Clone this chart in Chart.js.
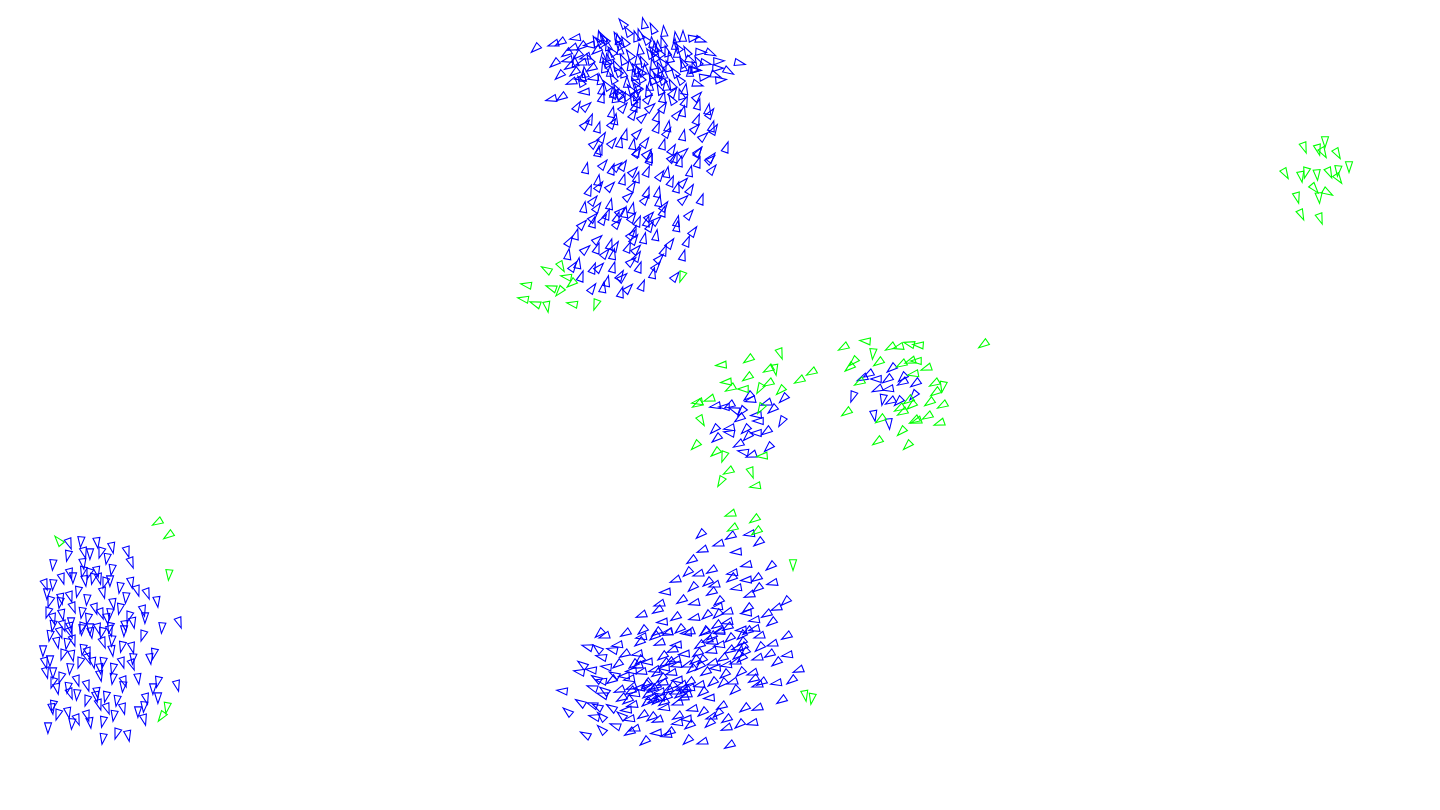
<!DOCTYPE html>
<html><head><meta charset="utf-8">
<style>html,body{margin:0;padding:0;background:#fff;overflow:hidden}canvas{display:block}</style>
<script src="https://cdn.jsdelivr.net/npm/chart.js@4"></script></head>
<body><canvas id="c" width="1440" height="810"></canvas>
<script>
// values: [x, y, marker angle (optional)]
const greenFarRight=[[1304,147,160],[1325,141,180],[1318,149,165],[1323,152,150],[1337,153,150],[1285,173,150],[1301,176,170],[1306,172,195],[1317,174,175],[1329,172,155],[1338,170,185],[1338,178,145],[1349,166,180],[1314,188,140],[1327,192,120],[1319,197,175],[1297,197,165],[1301,214,155],[1320,218,160]];
const greenMidLeft=[[780,353,160],[722,365,265],[749,359,235],[769,369,240],[775,369,170],[812,372,240],[800,380,240],[748,377,235],[727,382,265],[731,388,240],[744,389,270],[760,388,210],[769,383,240],[781,390,225],[710,399,250],[698,402,260],[698,404,240],[701,420,150],[696,445,225],[716,452,230],[724,456,200],[763,456,265],[729,471,240],[751,472,160],[721,481,210],[756,486,260],[761,408,210]];
const greenMidRight=[[844,347,240],[866,341,275],[873,353,185],[891,347,240],[899,347,255],[910,344,285],[919,345,275],[984,344,235],[854,361,225],[850,367,230],[879,362,235],[902,364,240],[911,361,250],[917,361,270],[927,368,250],[914,374,260],[860,382,240],[935,383,240],[943,386,190],[936,392,235],[943,405,240],[930,402,235],[847,412,235],[909,400,235],[900,408,240],[912,405,230],[903,412,240],[928,416,240],[915,420,240],[917,421,250],[940,423,250],[881,419,235],[902,431,225],[878,441,235],[908,445,225]];
const greenFoot=[[547,270,300],[561,266,150],[567,277,280],[572,283,230],[527,285,280],[552,288,290],[560,291,220],[524,299,280],[536,304,290],[547,306,170],[573,304,280],[596,304,200],[682,276,200]];
const greenLeft=[[158,522,240],[169,535,235],[59,541,320],[169,574,185],[167,707,190],[162,716,215]];
const greenBottom=[[731,514,250],[755,519,235],[733,528,240],[757,531,235],[793,564,180],[805,695,170],[812,698,190]];
const blueMidLeft=[[716,406,260],[725,407,270],[730,405,240],[735,410,290],[742,411,220],[749,396,230],[751,400,255],[767,403,250],[784,398,225],[773,409,230],[740,418,235],[757,415,265],[759,421,270],[782,421,210],[715,429,225],[730,428,260],[730,433,280],[746,429,225],[767,431,235],[757,433,270],[717,438,230],[748,436,225],[739,444,240],[769,447,225],[744,452,280],[752,455,250]];
const blueMidRight=[[869,374,240],[863,378,245],[892,368,230],[877,379,270],[888,379,235],[903,377,225],[903,382,240],[916,383,235],[878,389,245],[889,389,260],[853,396,200],[883,399,190],[891,401,240],[899,401,225],[914,395,220],[874,415,170],[889,423,175]];
const blueCrownLeft=[[536,48],[554,44],[561,42],[576,38],[582,46],[573,48],[590,45],[567,53],[568,60],[555,63],[560,75],[582,63],[592,68],[581,78],[575,72],[572,82],[585,92],[562,97],[552,99],[597,50],[578,55],[586,57],[570,66],[594,78]];
const blueCrownMid=[[623,24],[644,24],[653,29],[664,32],[628,32],[636,37],[683,37],[603,38],[618,40],[619,45],[600,43],[608,60],[623,60],[638,60],[653,52],[663,43],[675,45],[687,52],[660,73],[662,80],[663,63],[653,65],[652,80],[637,72],[635,83],[623,73],[627,83],[613,79],[600,80],[675,73],[680,80],[683,67],[672,85],[652,43],[660,53],[667,52],[677,53],[683,63],[640,50],[630,55],[612,52],[604,68],[616,66],[645,70],[655,57],[668,67],[650,86],[641,78],[630,66],[607,86],[618,72],[670,58],[643,62],[658,47]];
const blueCrownDense=[[605,40],[608,46],[617,38],[603,58],[606,63],[610,56],[583,77],[581,82],[585,73],[636,69],[641,72],[634,76],[660,68],[664,74],[657,78],[652,74],[613,93],[617,90],[615,98],[619,95],[638,88],[636,96],[633,100],[655,48],[650,54],[694,68],[690,72],[698,62],[676,38],[678,48],[646,40],[600,37],[596,42],[620,50],[625,42],[640,35],[610,72],[590,60],[575,62],[631,90],[626,96],[648,92],[660,90],[666,86],[672,100],[681,95]];
const blueCrownRight=[[693,38],[700,40],[700,52],[710,53],[718,61],[739,63],[728,71],[717,68],[715,75],[720,80],[704,77],[697,84],[695,70],[690,60],[693,70],[705,63]];
const blueStem=[[602,90],[615,94],[623,98],[637,93],[602,98],[577,107],[586,107],[638,103],[648,99],[663,98],[685,90],[673,93],[685,102],[697,97],[698,105],[663,108],[650,108],[635,107],[623,108],[612,113],[615,120],[612,124],[590,120],[585,125],[598,128],[633,115],[642,118],[657,117],[677,115],[683,112],[708,110],[710,114],[697,120],[695,129],[712,127],[714,130],[703,137],[726,148],[698,152],[683,136],[668,127],[667,133],[657,128],[637,134],[625,135],[602,138],[594,144],[600,150],[612,143],[620,143],[633,145],[645,143],[637,152],[647,154],[663,145],[672,150],[683,153],[675,158],[711,158],[650,158],[598,152],[637,153],[650,160],[672,158],[680,162],[698,153],[710,160],[698,163],[712,170],[690,172],[667,173],[660,176],[647,172],[633,172],[637,178],[623,166],[617,167],[612,170],[603,165],[586,169],[598,181],[599,187],[589,191],[610,187],[623,180],[632,187],[628,197],[647,193],[645,200],[658,193],[659,202],[664,207],[671,182],[683,183],[677,188],[690,190],[683,200],[701,200],[593,201],[610,205],[584,208],[597,208],[607,215],[593,218],[593,223],[603,220],[620,212],[617,218],[617,224],[632,209],[625,213],[632,218],[638,222],[649,217],[647,222],[650,227],[656,221],[663,212],[689,215],[677,222],[677,227],[693,232],[687,242],[582,225],[576,235],[569,242],[597,240],[634,232],[631,235],[644,239],[656,236],[634,240],[628,248],[636,250],[610,245],[615,247],[585,250],[597,249],[605,254],[613,255],[568,255],[670,244],[664,251],[659,259],[683,256],[637,257],[631,262],[639,268],[656,267],[653,274],[578,264],[573,267],[593,269],[599,268],[613,268],[620,276],[622,278],[581,277],[675,277],[607,282],[603,288],[592,289],[642,286],[628,289],[621,293]];
const blueLeft=[[69,543],[81,541],[97,542],[68,555],[84,552],[90,553],[101,552],[112,547],[107,558],[127,551],[131,562],[53,564],[83,563],[83,571],[70,573],[73,577],[89,573],[97,571],[112,569],[62,578],[45,584],[53,584],[85,580],[93,578],[99,578],[110,580],[105,582],[131,582],[120,587],[137,590],[147,593],[126,597],[157,601],[78,591],[103,592],[47,593],[50,601],[61,598],[60,602],[70,596],[73,607],[87,599],[113,603],[120,608],[143,610],[145,617],[48,612],[62,614],[82,612],[95,608],[101,613],[110,613],[107,618],[88,618],[53,618],[71,622],[129,616],[133,622],[53,625],[63,625],[179,622],[162,627],[125,625],[110,627],[98,628],[90,628],[82,627],[70,627],[50,635],[60,632],[70,632],[82,629],[91,632],[102,632],[110,630],[124,630],[143,635],[57,642],[67,643],[73,640],[103,642],[112,640],[112,650],[122,646],[132,647],[43,650],[63,654],[72,655],[83,649],[88,652],[88,658],[133,658],[150,658],[154,653],[45,662],[50,660],[80,662],[93,662],[103,662],[122,662],[132,664],[70,668],[100,668],[113,668],[46,672],[53,672],[61,677],[100,675],[113,678],[77,680],[124,681],[123,686],[138,678],[158,681],[177,685],[153,688],[53,682],[57,688],[68,687],[87,685],[70,693],[77,694],[97,692],[106,696],[146,698],[158,697],[87,700],[96,696],[117,700],[99,704],[107,708],[144,706],[52,708],[53,705],[123,708],[138,711],[58,714],[68,712],[114,715],[87,715],[77,719],[72,723],[90,722],[103,721],[144,719],[48,727],[117,733],[128,735],[103,738]];
const blueBottomFlank=[[563,691],[581,703],[593,705],[568,712],[595,717],[586,735],[602,730],[588,647],[583,665],[580,672],[592,670],[597,679],[593,688],[598,649],[602,657],[598,707],[602,717],[603,695],[605,691],[602,681],[607,667],[612,708],[616,726],[622,716],[613,650],[615,675]];
const blueBottom=[[701,534],[719,544],[731,536],[750,534],[759,542],[703,550],[737,552],[692,560],[747,565],[771,566],[688,572],[699,574],[712,570],[733,573],[732,578],[676,580],[747,580],[757,578],[773,583],[708,582],[693,587],[715,585],[712,592],[737,588],[758,588],[750,595],[666,592],[682,600],[695,603],[719,601],[786,601],[660,604],[658,610],[718,607],[748,608],[777,608],[747,613],[676,617],[695,618],[707,615],[718,614],[728,612],[767,614],[755,620],[772,622],[642,615],[663,622],[717,625],[728,622],[680,629],[705,631],[720,631],[728,627],[668,632],[657,632],[690,632],[742,630],[748,631],[755,629],[643,630],[600,633],[605,636],[626,633],[642,637],[655,636],[668,633],[687,633],[705,632],[720,632],[730,638],[742,635],[760,636],[787,636],[618,645],[640,642],[660,643],[677,645],[700,645],[713,642],[743,647],[760,647],[773,644],[625,654],[638,654],[663,656],[673,650],[685,654],[698,653],[712,651],[738,655],[742,658],[758,658],[770,654],[788,655],[618,664],[638,666],[648,662],[665,663],[677,665],[692,669],[702,660],[713,663],[723,658],[727,665],[777,662],[799,670],[632,671],[657,673],[672,673],[725,674],[741,672],[753,673],[754,679],[630,679],[647,683],[663,683],[678,680],[690,682],[700,685],[713,682],[723,683],[733,682],[762,682],[777,683],[792,680],[632,687],[640,688],[653,689],[683,689],[703,692],[735,690],[758,685],[622,698],[652,698],[667,697],[687,695],[710,698],[782,700],[633,705],[647,702],[657,700],[678,703],[722,706],[665,708],[745,708],[758,708],[627,710],[643,715],[693,709],[703,712],[718,713],[712,717],[678,716],[630,719],[652,717],[658,720],[687,719],[727,719],[753,723],[740,724],[710,723],[635,729],[630,732],[678,723],[690,725],[727,728],[657,733],[670,732],[667,735],[645,741],[688,740],[703,742],[730,745]];
const blueBottomDense=[[646,685],[650,688],[656,686],[660,692],[648,694],[654,700],[660,698],[664,702],[642,672],[634,664],[640,660],[682,685],[686,690],[690,688],[680,694],[684,698],[665,668],[670,662],[676,660],[695,660],[700,666],[688,665],[631,691],[635,694],[628,700],[620,690],[625,676],[612,680],[738,648],[742,642],[745,652],[736,662],[730,650],[720,645],[712,636],[708,640],[716,668],[706,672],[655,670],[662,678],[672,686],[676,692],[668,690]];

const groupAngles={crownLeft:245,crownMid:340,crownRight:100,stem:28,left:178,flank:295,bottom:245};
const spread=[-18,7,-6,15,-12,3,20,-9,11,-15];
const groupsBlue=[[blueMidLeft],[blueMidRight],[blueCrownLeft,groupAngles.crownLeft],[blueCrownMid,groupAngles.crownMid],[blueCrownDense,groupAngles.crownMid],[blueCrownRight,groupAngles.crownRight],[blueStem,groupAngles.stem],[blueLeft,groupAngles.left],[blueBottomFlank,groupAngles.flank],[blueBottom,groupAngles.bottom],[blueBottomDense,groupAngles.bottom]];
const groupsGreen=[[greenFarRight],[greenMidLeft],[greenMidRight],[greenFoot],[greenLeft],[greenBottom]];
function build(groups){const data=[],rot=[];groups.forEach(([pts,a])=>pts.forEach((p,i)=>{data.push({x:p[0],y:p[1]});rot.push(p[2]!==undefined?p[2]:a+spread[i%spread.length]);}));return{data,rot};}
const b=build(groupsBlue),g=build(groupsGreen);

// narrow open triangle marker, placed by the library's scales
const PE=Chart.elements.PointElement;
PE.prototype.draw=function(ctx){
  const o=this.options,{x,y}=this;
  ctx.save();ctx.translate(x,y);ctx.rotate((o.rotation||0)*Math.PI/180);
  ctx.beginPath();ctx.moveTo(0,-6.4);ctx.lineTo(3.5,4.2);ctx.lineTo(-3.5,4.2);ctx.closePath();
  ctx.lineWidth=o.borderWidth;ctx.strokeStyle=o.borderColor;ctx.lineJoin='miter';ctx.stroke();ctx.restore();
};
new Chart(document.getElementById('c'),{type:'scatter',
 data:{datasets:[
  {label:'green',data:g.data,pointRotation:g.rot,borderColor:'#00ff00',backgroundColor:'transparent',pointBorderWidth:1.1,pointRadius:5,order:0},
  {label:'blue',data:b.data,pointRotation:b.rot,borderColor:'#0000ff',backgroundColor:'transparent',pointBorderWidth:1.1,pointRadius:5,order:1}]},
 options:{responsive:false,animation:false,devicePixelRatio:1,layout:{padding:0,autoPadding:false},
  plugins:{legend:{display:false},tooltip:{enabled:false}},
  scales:{x:{type:'linear',display:false,min:0,max:1440},y:{type:'linear',display:false,min:0,max:810,reverse:true}}}});
</script></body></html>
